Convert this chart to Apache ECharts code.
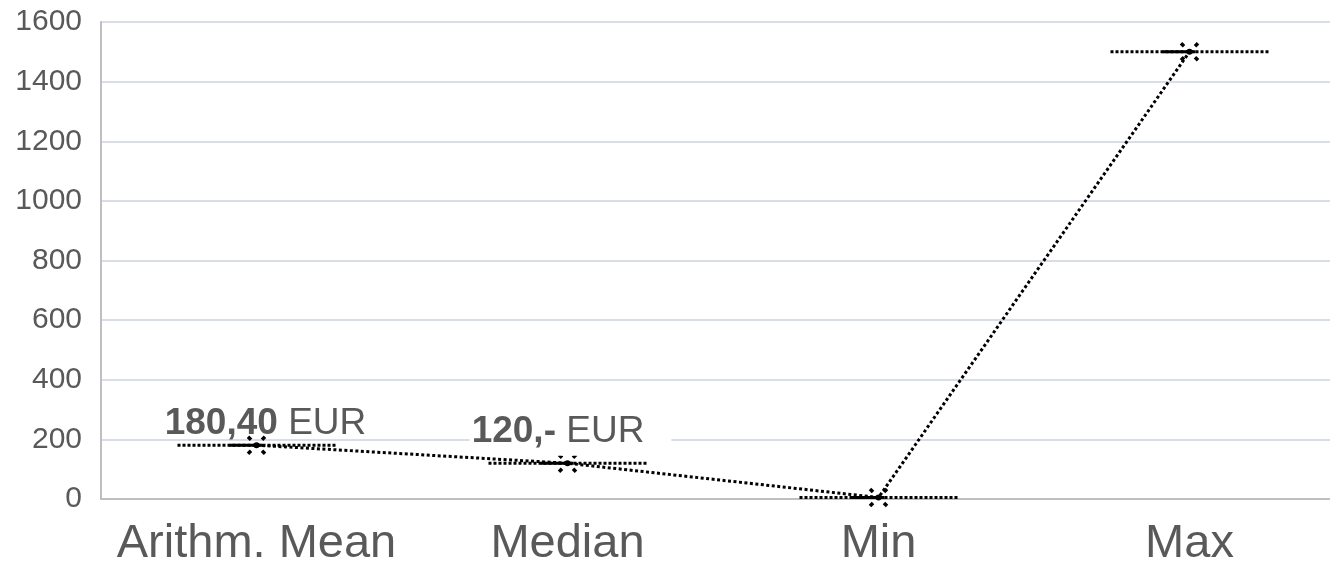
<!DOCTYPE html>
<html>
<head>
<meta charset="utf-8">
<script src="https://cdn.jsdelivr.net/npm/echarts@6/dist/echarts.min.js"></script>
<style>
  html, body { margin: 0; padding: 0; background: #fff; overflow: hidden; }
  /* the plot runs slightly past the right edge of the window */
  #chart { width: 1345px; height: 568px; }
</style>
</head>
<body>
<div id="chart"></div>
<script>
// Summary statistics of the amounts (EUR)
const categories = ['Arithm. Mean', 'Median', 'Min', 'Max'];
const values = [180.4, 120, 5, 1500];
// Value labels: bold figure + unit (only shown for mean and median)
const labelFigures = ['180,40', '120,-', '', ''];
const labelUnit = 'EUR';
const yTicks = [0, 200, 400, 600, 800, 1000, 1200, 1400, 1600];

const FONT = '"Liberation Sans", Arial, sans-serif';
const TEXT = '#595959';

// per-point label placement
const labelPlacement = [
  { offset: [9, 0], distance: 1, padding: [0, 2, 0, 2], background: 'transparent' },
  { offset: [3, 0], distance: 7, padding: [4, 27, 4, 2], background: '#fff' }
];

const lineData = values.map((v, i) => {
  const item = { value: v };
  if (labelFigures[i]) {
    const lp = labelPlacement[i];
    item.label = {
      show: true,
      position: 'top',
      distance: lp.distance,
      offset: lp.offset,
      formatter: '{b|' + labelFigures[i] + '}{n| ' + labelUnit + '}',
      backgroundColor: lp.background,
      padding: lp.padding,
      rich: {
        b: { fontFamily: FONT, fontSize: 37, fontWeight: 'bold', color: TEXT, lineHeight: 40 },
        n: { fontFamily: FONT, fontSize: 37, color: TEXT, lineHeight: 40 }
      }
    };
  }
  return item;
});

const chart = echarts.init(document.getElementById('chart'), null, { renderer: 'canvas' });

chart.setOption({
  animation: false,
  backgroundColor: '#fff',
  grid: { left: 101, top: 22, right: 0, bottom: 67, containLabel: false },
  xAxis: {
    type: 'category',
    data: categories,
    boundaryGap: true,
    axisLine: { show: true, lineStyle: { color: '#bfbfbf', width: 2 } },
    axisTick: { show: false },
    axisLabel: { fontFamily: FONT, fontSize: 47, color: TEXT, margin: 22, interval: 0 },
    splitLine: { show: false }
  },
  yAxis: {
    type: 'value',
    min: yTicks[0],
    max: yTicks[yTicks.length - 1],
    interval: yTicks[1] - yTicks[0],
    axisLine: { show: true, lineStyle: { color: '#bfbfbf', width: 2 } },
    axisTick: { show: false },
    axisLabel: { fontFamily: FONT, fontSize: 30, color: TEXT, margin: 19, formatter: v => String(v) },
    splitLine: { show: true, lineStyle: { color: '#d9dde6', width: 2 } }
  },
  series: [
    {
      // horizontal dotted markers with a dotted "x" at each value
      type: 'custom',
      z: 3,
      data: values.map((v, i) => [i, v]),
      renderItem: function (params, api) {
        const p = api.coord([api.value(0), api.value(1)]);
        const half = 79;
        const dot = { stroke: '#000', lineWidth: 3, lineDash: [3, 2] };
        const children = [
          { type: 'line', shape: { x1: p[0] - half, y1: p[1], x2: p[0] + half, y2: p[1] }, style: dot },
          { type: 'line', shape: { x1: p[0] - 27, y1: p[1], x2: p[0] + 6, y2: p[1] }, style: { stroke: '#000', lineWidth: 3 } },
          { type: 'circle', shape: { cx: p[0], cy: p[1], r: 3 }, style: { fill: '#000' } }
        ];
        // four corner dots of the "x"
        [[-1, -1], [1, -1], [-1, 1], [1, 1]].forEach(([dx, dy]) => {
          children.push({
            type: 'line',
            shape: { x1: p[0] + dx * 5.5, y1: p[1] + dy * 5.5, x2: p[0] + dx * 8.5, y2: p[1] + dy * 8.5 },
            style: { stroke: '#000', lineWidth: 3.5 }
          });
        });
        return { type: 'group', children: children };
      }
    },
    {
      // dotted line connecting the statistics; invisible symbols carry the labels
      type: 'line',
      z: 4,
      data: lineData,
      symbol: 'circle',
      symbolSize: 1,
      showSymbol: true,
      itemStyle: { color: 'rgba(0,0,0,0)' },
      lineStyle: { color: '#000', width: 3, type: [3, 2.5] },
      label: { show: false }
    }
  ]
});
</script>
</body>
</html>
